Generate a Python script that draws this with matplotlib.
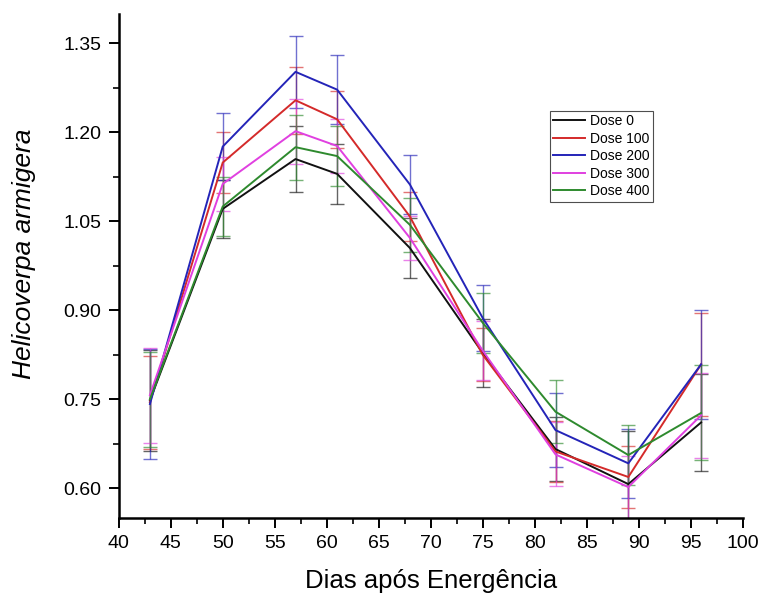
import matplotlib
matplotlib.use('Agg')
import matplotlib.pyplot as plt
from matplotlib.ticker import MultipleLocator, FormatStrFormatter
from matplotlib.lines import Line2D
from matplotlib.colors import to_rgba

plt.rcParams['font.family'] = ['Liberation Sans', 'DejaVu Sans']

# Days after emergence
dias = [43, 50, 57, 61, 68, 75, 82, 89, 96]

labels = ['Dose 0', 'Dose 100', 'Dose 200', 'Dose 300', 'Dose 400']
colors = ['#111111', '#d42a2a', '#2424b8', '#e040e0', '#2e8a2e']

dose0 = [0.748, 1.071, 1.155, 1.130, 1.005, 0.828, 0.666, 0.607, 0.711]
dose100 = [0.745, 1.149, 1.254, 1.222, 1.058, 0.825, 0.662, 0.619, 0.809]
dose200 = [0.742, 1.176, 1.302, 1.272, 1.112, 0.887, 0.698, 0.642, 0.809]
dose300 = [0.757, 1.113, 1.202, 1.177, 1.022, 0.832, 0.657, 0.602, 0.723]
dose400 = [0.750, 1.075, 1.175, 1.160, 1.044, 0.879, 0.729, 0.656, 0.727]

err0 = [0.085, 0.049, 0.056, 0.050, 0.050, 0.058, 0.054, 0.090, 0.082]
err100 = [0.078, 0.051, 0.056, 0.048, 0.042, 0.045, 0.051, 0.052, 0.087]
err200 = [0.093, 0.056, 0.061, 0.058, 0.049, 0.056, 0.062, 0.058, 0.092]
err300 = [0.080, 0.046, 0.055, 0.045, 0.037, 0.050, 0.054, 0.053, 0.072]
err400 = [0.080, 0.050, 0.055, 0.050, 0.046, 0.051, 0.053, 0.050, 0.080]

means = [dose0, dose100, dose200, dose300, dose400]
errs = [err0, err100, err200, err300, err400]

fig = plt.figure(figsize=(7.61, 5.96), dpi=100)
ax = fig.add_axes([0.156, 0.131, 0.82, 0.846])

# error bars drawn first, slightly faded, then the mean lines on top
for m, e, c in zip(means, errs, colors):
    ax.errorbar(dias, m, yerr=e, fmt='none', ecolor=to_rgba(c, 0.65),
                elinewidth=1.0, capsize=5, capthick=1.0)
for m, c in zip(means, colors):
    ax.plot(dias, m, color=c, linewidth=1.4)

ax.set_xlim(40, 100)
ax.set_ylim(0.55, 1.40)
ax.xaxis.set_major_locator(MultipleLocator(5))
ax.xaxis.set_minor_locator(MultipleLocator(2.5))
ax.set_yticks([0.60, 0.75, 0.90, 1.05, 1.20, 1.35])
ax.yaxis.set_minor_locator(MultipleLocator(0.075))
ax.yaxis.set_major_formatter(FormatStrFormatter('%.2f'))

for side in ['top', 'right']:
    ax.spines[side].set_visible(False)
for side in ['left', 'bottom']:
    ax.spines[side].set_linewidth(1.8)

ax.tick_params(which='major', direction='out', length=7.5, width=1.4,
               labelsize=14, pad=5)
ax.tick_params(which='minor', direction='out', length=4.5, width=1.2)

ax.set_xlabel('Dias após Energência', fontsize=18.5, labelpad=12)
ax.set_ylabel('Helicoverpa armigera', fontsize=19, style='italic')
ax.yaxis.set_label_coords(-0.132, 0.524)

handles = [Line2D([], [], color=c, linewidth=1.4) for c in colors]
leg = ax.legend(handles, labels, loc='upper left', bbox_to_anchor=(0.691, 0.8075),
                borderaxespad=0, fontsize=10, frameon=True, fancybox=False,
                handlelength=2.3, borderpad=0.25, labelspacing=0.25,
                handletextpad=0.35)
leg.get_frame().set_edgecolor('#222222')
leg.get_frame().set_linewidth(0.8)

fig.savefig('out.png', dpi=100)
